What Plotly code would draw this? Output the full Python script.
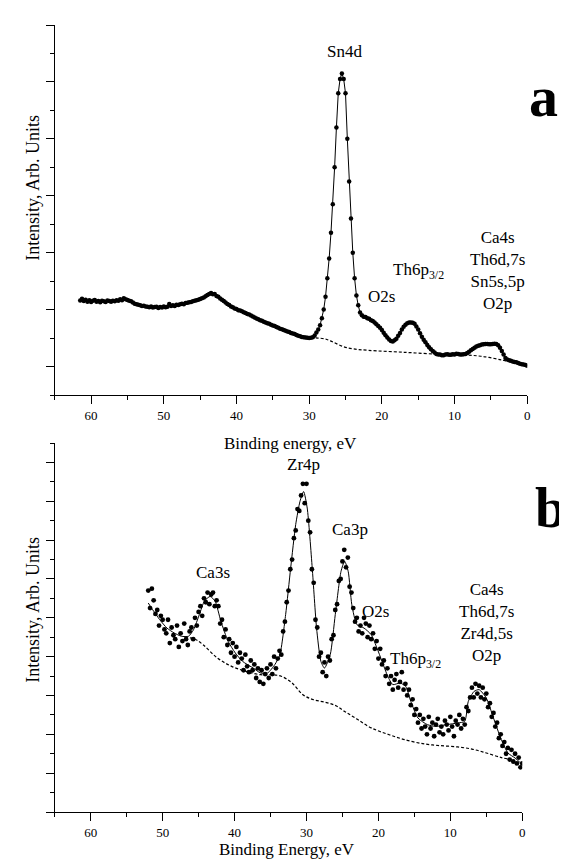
import plotly.graph_objects as go

# ---------------- Panel a data: (binding energy eV, intensity) ----------------
a_pts = [(61.5, 3.32), (61.25, 3.38), (61.0, 3.30), (60.75, 3.35), (60.5, 3.28), (60.25, 3.33),
         (60.0, 3.27), (59.75, 3.31), (59.5, 3.34), (59.25, 3.28), (59.0, 3.30), (58.75, 3.26),
         (58.5, 3.31), (58.25, 3.29), (58.0, 3.27), (57.75, 3.32), (57.5, 3.30), (57.25, 3.28),
         (57.0, 3.31), (56.75, 3.29), (56.5, 3.33), (56.25, 3.31), (56.0, 3.36), (55.75, 3.33),
         (55.5, 3.40), (55.25, 3.36), (55.0, 3.34), (54.75, 3.31), (54.5, 3.29), (54.25, 3.25),
         (54.0, 3.21), (53.75, 3.19), (53.5, 3.17), (53.25, 3.15), (53.0, 3.13), (52.75, 3.14),
         (52.5, 3.11), (52.25, 3.10), (52.0, 3.08), (51.75, 3.11), (51.5, 3.07), (51.25, 3.09),
         (51.0, 3.10), (50.75, 3.06), (50.5, 3.09), (50.25, 3.07), (50.0, 3.11), (49.75, 3.08),
         (49.5, 3.10), (49.25, 3.20), (49.0, 3.13), (48.75, 3.15), (48.5, 3.13), (48.25, 3.17),
         (48.0, 3.16), (47.75, 3.19), (47.5, 3.21), (47.25, 3.19), (47.0, 3.23), (46.75, 3.24),
         (46.5, 3.26), (46.25, 3.27), (46.0, 3.29), (45.75, 3.31), (45.5, 3.33), (45.25, 3.35),
         (45.0, 3.37), (44.75, 3.40), (44.5, 3.43), (44.25, 3.47), (44.0, 3.51), (43.75, 3.55),
         (43.5, 3.58), (43.25, 3.54), (43.0, 3.55), (42.75, 3.48), (42.5, 3.45), (42.25, 3.39),
         (42.0, 3.35), (41.75, 3.30), (41.5, 3.25), (41.25, 3.20), (41.0, 3.16), (40.75, 3.11),
         (40.5, 3.08), (40.25, 3.04), (40.0, 3.02), (39.75, 2.98), (39.5, 2.97), (39.25, 2.94),
         (39.0, 2.91), (38.75, 2.88), (38.5, 2.85), (38.25, 2.83), (38.0, 2.79), (37.75, 2.76),
         (37.5, 2.72), (37.25, 2.69), (37.0, 2.66), (36.75, 2.63), (36.5, 2.61), (36.25, 2.57),
         (36.0, 2.55), (35.75, 2.52), (35.5, 2.50), (35.25, 2.47), (35.0, 2.44), (34.75, 2.42),
         (34.5, 2.39), (34.25, 2.36), (34.0, 2.33), (33.75, 2.31), (33.5, 2.28), (33.25, 2.26),
         (33.0, 2.23), (32.75, 2.21), (32.5, 2.18), (32.25, 2.16), (32.0, 2.14), (31.75, 2.11),
         (31.5, 2.08), (31.25, 2.06), (31.0, 2.04), (30.75, 2.03), (30.5, 2.02), (30.25, 2.01),
         (30.0, 2.00), (29.75, 2.01), (29.5, 2.03), (29.25, 2.09), (29.0, 2.20), (28.75, 2.30),
         (28.5, 2.45), (28.25, 2.70), (28.0, 3.00), (27.75, 3.45), (27.5, 4.10), (27.25, 4.80),
         (27.0, 5.70), (26.75, 6.70), (26.5, 8.00), (26.25, 9.40), (26.0, 10.60), (25.75, 11.10),
         (25.5, 11.30), (25.25, 11.10), (25.0, 10.60), (24.75, 9.00), (24.5, 7.50), (24.25, 6.20),
         (24.0, 5.00), (23.75, 4.10), (23.5, 3.50), (23.25, 3.15), (23.0, 2.90), (22.75, 2.80),
         (22.5, 2.75), (22.25, 2.74), (22.0, 2.70), (21.75, 2.68), (21.5, 2.63), (21.25, 2.60),
         (21.0, 2.55), (20.75, 2.49), (20.5, 2.42), (20.25, 2.36), (20.0, 2.28), (19.75, 2.19),
         (19.5, 2.10), (19.25, 2.02), (19.0, 1.95), (18.75, 1.90), (18.5, 1.88), (18.25, 1.92),
         (18.0, 1.98), (17.75, 2.08), (17.5, 2.18), (17.25, 2.30), (17.0, 2.40), (16.75, 2.47),
         (16.5, 2.52), (16.25, 2.55), (16.0, 2.55), (15.75, 2.54), (15.5, 2.50), (15.25, 2.41),
         (15.0, 2.30), (14.75, 2.17), (14.5, 2.05), (14.25, 1.94), (14.0, 1.85), (13.75, 1.76),
         (13.5, 1.68), (13.25, 1.61), (13.0, 1.55), (12.75, 1.49), (12.5, 1.44), (12.25, 1.42),
         (12.0, 1.42), (11.75, 1.40), (11.5, 1.40), (11.25, 1.42), (11.0, 1.43), (10.75, 1.41),
         (10.5, 1.41), (10.25, 1.43), (10.0, 1.42), (9.75, 1.45), (9.5, 1.44), (9.25, 1.42),
         (9.0, 1.42), (8.75, 1.43), (8.5, 1.44), (8.25, 1.48), (8.0, 1.52), (7.75, 1.57),
         (7.5, 1.62), (7.25, 1.66), (7.0, 1.70), (6.75, 1.73), (6.5, 1.75), (6.25, 1.77),
         (6.0, 1.78), (5.75, 1.79), (5.5, 1.79), (5.25, 1.78), (5.0, 1.78), (4.75, 1.79),
         (4.5, 1.80), (4.25, 1.79), (4.0, 1.75), (3.75, 1.66), (3.5, 1.55), (3.25, 1.42),
         (3.0, 1.30), (2.75, 1.25), (2.5, 1.22), (2.25, 1.20), (2.0, 1.18), (1.75, 1.16),
         (1.5, 1.15), (1.25, 1.12), (1.0, 1.10), (0.75, 1.08), (0.5, 1.07), (0.25, 1.05), (0.0, 1.03)]
a_bg_x = [29.8, 28.8, 27.8, 26.8, 25.3, 23.9, 21.9, 16.9, 12.0, 8.7, 6.0, 3.5, 2.0]
a_bg_y = [2.01, 2.00, 1.97, 1.87, 1.70, 1.62, 1.57, 1.50, 1.43, 1.41, 1.35, 1.23, 1.15]

# ---------------- Panel b data ----------------
b_line_x = [52.0, 51.4, 50.4, 49.4, 48.4, 47.4, 46.4, 45.7, 44.9, 44.2, 43.4, 42.7, 41.9, 40.9, 39.9,
            38.9, 37.4, 36.4, 35.4, 34.4, 33.7, 32.9, 32.2, 31.5, 30.9, 30.4, 29.9, 29.2, 28.6, 28.0,
            27.5, 26.7, 26.0, 25.2, 24.7, 24.2, 23.7, 23.0, 22.0, 21.0, 20.2, 19.5, 18.7, 18.0, 17.0,
            16.2, 15.5, 14.5, 13.2, 12.0, 10.5, 9.0, 8.0, 7.5, 6.7, 6.0, 5.0, 4.0, 3.0, 2.0, 1.0, 0.0]
b_line_y = [10.76, 10.42, 9.90, 9.47, 9.22, 9.05, 9.05, 9.39, 10.16, 10.85, 11.10, 10.85, 9.82, 8.79, 8.19,
            7.76, 7.41, 7.16, 7.16, 7.59, 8.10, 10.16, 12.56, 14.80, 16.00, 16.50, 15.65, 12.56, 9.47, 7.76,
            7.41, 8.10, 10.16, 12.39, 12.91, 12.39, 10.68, 9.65, 9.47, 9.13, 8.44, 7.76, 6.99, 6.56, 6.64,
            6.47, 5.70, 4.84, 4.50, 4.41, 4.50, 4.58, 4.67, 5.70, 6.21, 6.30, 5.87, 4.84, 3.81, 3.04, 2.78, 2.44]
b_pts = [(52.0, 11.4), (51.75, 10.5), (51.5, 11.5), (51.25, 10.9), (51.0, 10.2), (50.75, 10.4),
         (50.5, 9.6), (50.25, 10.1), (50.0, 9.9), (49.75, 9.4), (49.5, 9.2), (49.25, 9.9),
         (49.0, 8.7), (48.75, 9.5), (48.5, 9.1), (48.25, 8.9), (48.0, 9.6), (47.75, 8.5),
         (47.5, 9.2), (47.25, 8.8), (47.0, 9.7), (46.75, 8.9), (46.5, 8.6), (46.25, 9.3),
         (46.0, 9.5), (45.75, 8.9), (45.5, 10.0), (45.25, 9.6), (45.0, 10.3), (44.75, 10.6),
         (44.5, 10.1), (44.25, 11.0), (44.0, 10.8), (43.75, 11.3), (43.5, 10.7), (43.25, 11.2),
         (43.0, 11.3), (42.75, 10.6), (42.5, 10.9), (42.25, 10.6), (42.0, 9.7), (41.75, 9.9),
         (41.5, 9.0), (41.25, 9.4), (41.0, 8.6), (40.75, 8.9), (40.5, 8.2), (40.25, 8.7),
         (40.0, 8.0), (39.75, 8.5), (39.5, 7.7), (39.25, 8.2), (39.0, 7.9), (38.75, 7.3),
         (38.5, 8.1), (38.25, 7.5), (38.0, 7.2), (37.75, 7.8), (37.5, 7.3), (37.25, 7.6),
         (37.0, 6.9), (36.75, 7.4), (36.5, 6.7), (36.25, 7.3), (36.0, 6.6), (35.75, 7.1),
         (35.5, 7.4), (35.25, 6.9), (35.0, 7.6), (34.75, 7.1), (34.5, 8.0), (34.25, 7.4),
         (34.0, 7.9), (33.75, 8.3), (33.5, 8.1), (33.25, 9.3), (33.0, 9.8), (32.75, 10.8),
         (32.5, 11.4), (32.25, 12.5), (32.0, 13.0), (31.75, 14.1), (31.5, 14.5), (31.25, 15.6),
         (31.0, 15.5), (30.75, 16.3), (30.5, 16.9), (30.25, 15.9), (30.0, 16.9), (29.75, 15.0),
         (29.5, 14.4), (29.25, 12.5), (29.0, 11.8), (28.75, 9.9), (28.5, 9.5), (28.25, 8.0),
         (28.0, 8.2), (27.75, 7.2), (27.5, 7.7), (27.25, 7.0), (27.0, 8.0), (26.75, 7.8),
         (26.5, 8.9), (26.25, 9.1), (26.0, 10.4), (25.75, 10.7), (25.5, 11.9), (25.25, 12.0),
         (25.0, 12.9), (24.75, 13.5), (24.5, 12.6), (24.25, 13.1), (24.0, 11.6), (23.75, 11.3),
         (23.5, 10.5), (23.25, 9.8), (23.0, 10.0), (22.75, 9.3), (22.5, 9.6), (22.25, 9.2),
         (22.0, 10.0), (21.75, 9.7), (21.5, 9.0), (21.25, 9.6), (21.0, 8.9), (20.75, 9.2),
         (20.5, 8.4), (20.25, 8.8), (20.0, 7.9), (19.75, 8.4), (19.5, 7.6), (19.25, 7.8),
         (19.0, 7.0), (18.75, 7.4), (18.5, 6.6), (18.25, 7.0), (18.0, 6.3), (17.75, 6.8),
         (17.5, 7.1), (17.25, 6.4), (17.0, 6.7), (16.75, 7.2), (16.5, 6.3), (16.25, 6.6),
         (16.0, 6.0), (15.75, 6.3), (15.5, 5.5), (15.25, 5.8), (15.0, 5.0), (14.75, 5.3),
         (14.5, 4.6), (14.25, 5.0), (14.0, 4.3), (13.75, 4.8), (13.5, 4.4), (13.25, 4.0),
         (13.0, 4.9), (12.75, 4.3), (12.5, 4.6), (12.25, 3.9), (12.0, 4.5), (11.75, 4.8),
         (11.5, 4.1), (11.25, 4.4), (11.0, 4.0), (10.75, 4.7), (10.5, 4.5), (10.25, 4.2),
         (10.0, 4.9), (9.75, 4.4), (9.5, 3.9), (9.25, 4.7), (9.0, 4.5), (8.75, 5.0),
         (8.5, 4.3), (8.25, 4.8), (8.0, 4.5), (7.75, 5.4), (7.5, 5.2), (7.25, 5.9),
         (7.0, 6.4), (6.75, 5.9), (6.5, 6.6), (6.25, 6.1), (6.0, 6.5), (5.75, 5.9),
         (5.5, 6.4), (5.25, 5.8), (5.0, 6.1), (4.75, 5.4), (4.5, 5.6), (4.25, 4.9),
         (4.0, 5.1), (3.75, 4.4), (3.5, 4.6), (3.25, 3.8), (3.0, 4.0), (2.75, 3.4),
         (2.5, 3.6), (2.25, 3.0), (2.0, 3.3), (1.75, 2.7), (1.5, 3.2), (1.25, 2.6),
         (1.0, 3.0), (0.75, 2.5), (0.5, 2.8), (0.25, 2.3), (0.0, 2.5)]
b_bg_x = [46.9, 45.7, 44.4, 42.4, 40.4, 38.4, 36.4, 34.9, 33.5, 32.0, 30.5, 29.0, 27.5, 26.0, 24.7,
          23.0, 21.0, 18.5, 16.0, 13.5, 11.5, 9.0, 7.0, 5.0, 3.0, 2.0]
b_bg_y = [8.96, 8.93, 8.62, 7.93, 7.50, 7.24, 7.07, 7.07, 6.99, 6.64, 6.04, 5.78, 5.66, 5.49, 5.18,
          4.79, 4.33, 3.98, 3.69, 3.50, 3.42, 3.35, 3.24, 3.04, 2.81, 2.73]

x_ticks = [60, 50, 40, 30, 20, 10, 0]
x_minor = [65, 55, 45, 35, 25, 15, 5]

FONT = "Liberation Serif"
W, H = 567, 859

a_x = [p[0] for p in a_pts]
a_y = [p[1] for p in a_pts]
b_x = [p[0] for p in b_pts]
b_y = [p[1] for p in b_pts]

fig = go.Figure()
# panel a
fig.add_trace(go.Scatter(x=a_x, y=a_y, mode="lines+markers", xaxis="x", yaxis="y",
                         line=dict(color="black", width=1), marker=dict(color="black", size=4.5),
                         showlegend=False))
fig.add_trace(go.Scatter(x=a_bg_x, y=a_bg_y, mode="lines", xaxis="x", yaxis="y",
                         line=dict(color="black", width=1.2, dash="3px,2px", shape="spline"),
                         showlegend=False))
# panel b
fig.add_trace(go.Scatter(x=b_line_x, y=b_line_y, mode="lines", xaxis="x2", yaxis="y2",
                         line=dict(color="black", width=1, shape="spline", smoothing=0.6),
                         showlegend=False))
fig.add_trace(go.Scatter(x=b_x, y=b_y, mode="markers", xaxis="x2", yaxis="y2",
                         marker=dict(color="black", size=4.8), showlegend=False))
fig.add_trace(go.Scatter(x=b_bg_x, y=b_bg_y, mode="lines", xaxis="x2", yaxis="y2",
                         line=dict(color="black", width=1.2, dash="3px,2px", shape="spline"),
                         showlegend=False))


def px_x(p):
    return p / W


def px_y(p):
    return 1 - p / H


xcommon = dict(range=[65, 0], tickvals=x_ticks, ticks="outside", ticklen=8, tickwidth=1.3,
               tickcolor="black", showline=True, linecolor="black", linewidth=1.3,
               showgrid=False, zeroline=False, tickfont=dict(family=FONT, size=13, color="black"),
               minor=dict(tickvals=x_minor, ticks="outside", ticklen=4,
                          tickwidth=1.3, tickcolor="black", showgrid=False))
ycommon = dict(ticks="outside", ticklen=8, tickwidth=1.3, tickcolor="black", showline=True,
               linecolor="black", linewidth=1.3, showgrid=False, zeroline=False,
               showticklabels=False)

fig.update_layout(
    width=W, height=H, margin=dict(l=0, r=0, t=0, b=0),
    paper_bgcolor="white", plot_bgcolor="white",
    font=dict(family=FONT, color="black"),
    xaxis=dict(domain=[px_x(47), px_x(522)], anchor="y", **xcommon),
    yaxis=dict(domain=[px_y(387), px_y(17)], anchor="x", range=[0, 13], tick0=1, dtick=2,
               minor=dict(tick0=0, dtick=1, ticks="outside", ticklen=4, tickwidth=1.3,
                          tickcolor="black", showgrid=False), **ycommon),
    xaxis2=dict(domain=[px_x(47), px_x(517)], anchor="y2", **xcommon),
    yaxis2=dict(domain=[px_y(804), px_y(435)], anchor="x2", range=[0, 19], tick0=0, dtick=2,
                minor=dict(tick0=1, dtick=1, ticks="outside", ticklen=4, tickwidth=1.3,
                           tickcolor="black", showgrid=False), **ycommon),
)


def lab(text, x, y, xr, yr, size=17, xanchor="center", yanchor="middle", bold=False, angle=0):
    fig.add_annotation(text=("<b>%s</b>" % text) if bold else text, x=x, y=y, xref=xr, yref=yr,
                       showarrow=False, xanchor=xanchor, yanchor=yanchor, align="center",
                       textangle=angle, font=dict(family=FONT, size=size, color="black"))


# panel a labels
lab("Sn4d", 25.2, 12.06, "x", "y")
lab("O2s", 20.1, 3.45, "x", "y")
lab("Th6p<sub>3/2</sub>", 18.8, 4.35, "x", "y", xanchor="left")
lab("Ca4s<br>Th6d,7s<br>Sn5s,5p<br>O2p", 4.1, 4.39, "x", "y")
lab("a", px_x(538), px_y(88), "paper", "paper", size=58, bold=True)
lab("Binding energy, eV", px_x(284), px_y(435), "paper", "paper")
lab("Intensity, Arb. Units", px_x(25), px_y(180), "paper", "paper", size=18, angle=-90)

# panel b labels
lab("Zr4p", 30.35, 17.89, "x2", "y2")
lab("Ca3p", 23.97, 14.54, "x2", "y2")
lab("Ca3s", 43.03, 12.31, "x2", "y2")
lab("O2s", 20.37, 10.33, "x2", "y2")
lab("Th6p<sub>3/2</sub>", 18.6, 7.85, "x2", "y2", xanchor="left")
lab("Ca4s<br>Th6d,7s<br>Zr4d,5s<br>O2p", 5.0, 9.75, "x2", "y2")
lab("b", px_x(545), px_y(500), "paper", "paper", size=56, bold=True)
lab("Binding Energy, eV", px_x(280), px_y(841), "paper", "paper")
lab("Intensity, Arb. Units", px_x(25), px_y(602), "paper", "paper", size=18, angle=-90)

fig.write_html("out.html")
